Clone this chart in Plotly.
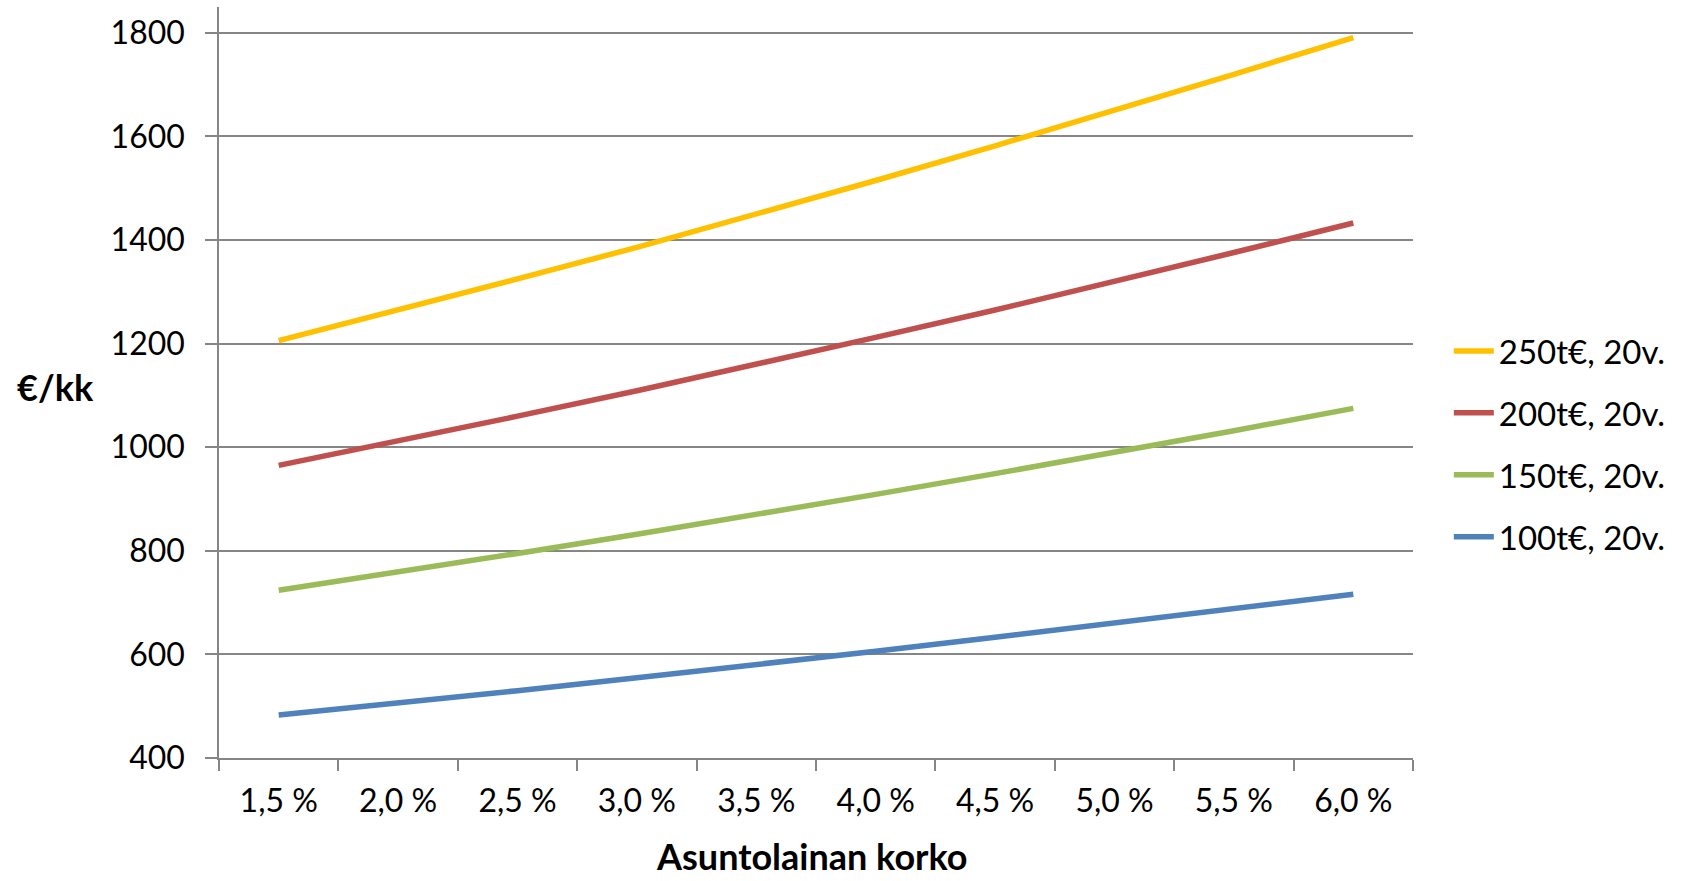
import plotly.graph_objects as go

categories = ["1,5 %", "2,0 %", "2,5 %", "3,0 %", "3,5 %", "4,0 %", "4,5 %", "5,0 %", "5,5 %", "6,0 %"]
series_names = ["250t€, 20v.", "200t€, 20v.", "150t€, 20v.", "100t€, 20v."]
loan_250 = [1206, 1265, 1325, 1386, 1450, 1515, 1582, 1650, 1720, 1791]
loan_200 = [965, 1012, 1060, 1109, 1160, 1212, 1265, 1320, 1376, 1433]
loan_150 = [724, 759, 795, 832, 870, 909, 949, 990, 1032, 1075]
loan_100 = [483, 506, 530, 555, 580, 606, 633, 660, 688, 716]
y_ticks = [400, 600, 800, 1000, 1200, 1400, 1600, 1800]

colors = ["#FFC000", "#C0504D", "#9BBB59", "#4F81BD"]
FONT = "Lato"

fig = go.Figure()
for name, vals, col in zip(series_names, [loan_250, loan_200, loan_150, loan_100], colors):
    fig.add_trace(go.Scatter(x=categories, y=vals, mode="lines", name=name,
                             legendgroup=name,
                             line=dict(color=col, width=5.5)))

W, H = 1694, 881
L, R, T, B = 219, 281, 7, 123
pw, ph = W - L - R, H - T - B

fig.update_layout(
    width=W, height=H,
    margin=dict(l=L, r=R, t=T, b=B),
    plot_bgcolor="white", paper_bgcolor="white",
    font=dict(family=FONT, size=32, color="black"),
    showlegend=True,
    legend=dict(traceorder="grouped", x=1.03, xanchor="left", y=(H - B - 444) / ph,
                yanchor="middle", font=dict(size=33), tracegroupgap=16,
                bgcolor="rgba(0,0,0,0)", itemwidth=40),
    xaxis=dict(type="category", range=[-0.5, 9.5], showgrid=False,
               showline=True, linecolor="#868686", linewidth=1.5,
               ticks="outside", tickson="boundaries", ticklen=11, tickcolor="#868686",
               tickwidth=1.5, tickfont=dict(size=32), ticklabelstandoff=14),
    yaxis=dict(range=[400, 1850], tickvals=y_ticks, showgrid=True, gridcolor="#868686",
               gridwidth=1.5, showline=True, linecolor="#868686", linewidth=1.5,
               ticks="outside", ticklen=12, tickcolor="#868686", tickwidth=1.5,
               tickfont=dict(size=32), ticklabelstandoff=14, zeroline=False),
)

fig.add_annotation(text="<b>€/kk</b>", xref="paper", yref="paper",
                   x=(55 - L) / pw, y=(H - B - 387) / ph, xanchor="center", yanchor="middle",
                   showarrow=False, font=dict(family=FONT, size=36))
fig.add_annotation(text="<b>Asuntolainan korko</b>", xref="paper", yref="paper",
                   x=(812 - L) / pw, y=(H - B - 856) / ph, xanchor="center", yanchor="middle",
                   showarrow=False, font=dict(family=FONT, size=36))

fig.write_html("out.html", config={"displayModeBar": False},
               post_script="document.body.style.margin='0px';document.body.style.overflow='hidden';")
